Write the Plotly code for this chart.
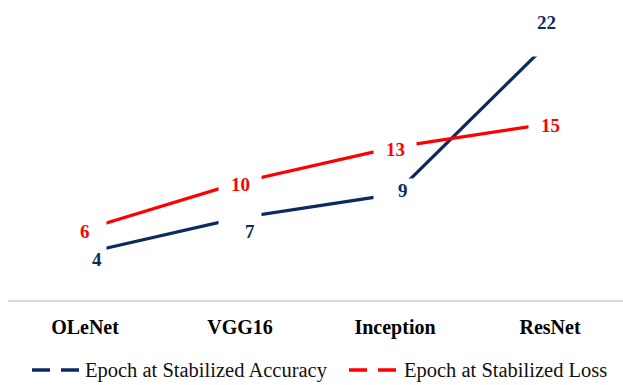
import plotly.graph_objects as go

# Models compared and the epoch at which each metric settled
models = ["OLeNet", "VGG16", "Inception", "ResNet"]
epoch_accuracy = [4, 7, 9, 22]
epoch_loss = [6, 10, 13, 15]

NAVY = "#0D2A60"
RED = "#FF0000"
SERIF = "Liberation Serif, Times New Roman, serif"

W, H = 623, 385
M_L, M_R, M_T, M_B = 8, 0, 6, 85
PLOT_W = W - M_L - M_R
PLOT_H = H - M_T - M_B


def px_x(px):
    return (px - M_L) / PLOT_W


def px_y(py):
    return (H - M_B - py) / PLOT_H


fig = go.Figure()
fig.add_trace(go.Scatter(x=models, y=epoch_accuracy, mode="lines",
                         line=dict(color=NAVY, width=3.2),
                         name="Epoch at Stabilized Accuracy", showlegend=False))
fig.add_trace(go.Scatter(x=models, y=epoch_loss, mode="lines",
                         line=dict(color=RED, width=3.2),
                         name="Epoch at Stabilized Loss", showlegend=False))

annotations = []
# white label boxes that break the lines at every point
for series in (epoch_accuracy, epoch_loss):
    for m, v in zip(models, series):
        annotations.append(dict(x=m, y=v, text=" ", showarrow=False,
                                width=40, height=28, bgcolor="white",
                                xanchor="center", yanchor="middle"))

# value labels: accuracy labels sit offset from their points
acc_shift = [(12, -7), (10, -14), (8, 4), (-4, 19)]
for m, v, (dx, dy) in zip(models, epoch_accuracy, acc_shift):
    annotations.append(dict(x=m, y=v, text=f"<b>{v}</b>", showarrow=False,
                            xshift=dx, yshift=dy,
                            font=dict(family=SERIF, size=19, color=NAVY)))
for m, v in zip(models, epoch_loss):
    annotations.append(dict(x=m, y=v, text=f"<b>{v}</b>", showarrow=False,
                            yshift=-2,
                            font=dict(family=SERIF, size=19, color=RED)))

# legend drawn by hand with dashed keys
shapes = []
legend_items = [("Epoch at Stabilized Accuracy", NAVY, 32, 83),
                ("Epoch at Stabilized Loss", RED, 349, 402)]
LEG_Y = 370
for label, color, x0, tx in legend_items:
    shapes.append(dict(type="line", xref="paper", yref="paper",
                       x0=px_x(x0), x1=px_x(x0 + 47),
                       y0=px_y(LEG_Y), y1=px_y(LEG_Y),
                       line=dict(color=color, width=3.5, dash="18px,11px")))
    annotations.append(dict(xref="paper", yref="paper", x=px_x(tx), y=px_y(LEG_Y),
                            text=label, showarrow=False, xanchor="left",
                            yanchor="middle",
                            font=dict(family=SERIF, size=20.5, color="#111111")))

fig.update_layout(
    width=W, height=H,
    margin=dict(l=M_L, r=M_R, t=M_T, b=M_B),
    paper_bgcolor="white", plot_bgcolor="white",
    showlegend=False,
    annotations=annotations,
    shapes=shapes,
    xaxis=dict(range=[-0.497, 3.471], showgrid=False, zeroline=False,
               showline=True, linecolor="#D9D9D9", linewidth=1.5,
               ticks="", ticklabelstandoff=8,
               tickfont=dict(family=SERIF, size=20, color="#000000"),
               tickprefix="<b>", ticksuffix="</b>"),
    yaxis=dict(range=[0, 25], visible=False, showgrid=False, zeroline=False),
)

fig.write_html("out.html")
